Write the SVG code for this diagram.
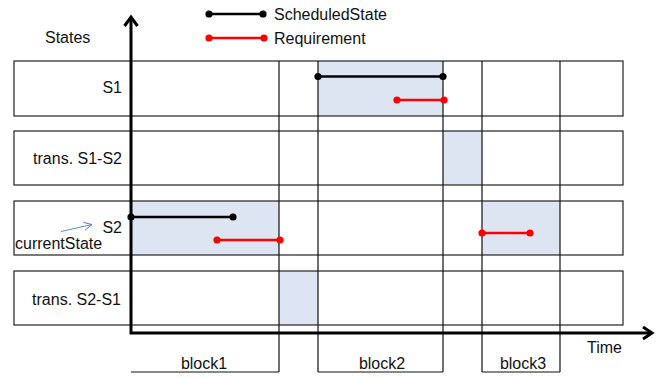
<svg xmlns="http://www.w3.org/2000/svg" width="661" height="378" viewBox="0 0 661 378">
  <style>
    .lbl { font-family: "Liberation Sans", Arial, sans-serif; font-size: 16px; fill: #111; }
    .row { fill: none; stroke: #222; stroke-width: 1.2; }
    .cell { fill: #dce5f1; stroke: none; }
    .grid { stroke: #111; stroke-width: 1.2; fill: none; }
    .axis { stroke: #000; stroke-width: 3; fill: none; }
    .sched { stroke: #000; stroke-width: 2.6; }
    .req { stroke: #f00; stroke-width: 2.6; }
    .dk { fill: #000; }
    .dr { fill: #f00; }
  </style>
  <defs>
    <marker id="thinArrow" markerWidth="10" markerHeight="10" refX="9" refY="5" orient="auto" markerUnits="userSpaceOnUse">
      <path d="M1,1 L9,5 L1,9" fill="none" stroke="#4a78c8" stroke-width="0.9"/>
    </marker>
  </defs>
  <rect width="661" height="378" fill="#fff"/>

  <!-- highlighted cells -->
  <g id="cells">
    <rect class="cell" x="318" y="61" width="125" height="55"/>
    <rect class="cell" x="443" y="131" width="39" height="54"/>
    <rect class="cell" x="131" y="201" width="148" height="54"/>
    <rect class="cell" x="482" y="201" width="78" height="54"/>
    <rect class="cell" x="279" y="271" width="39" height="54"/>
  </g>

  <!-- state rows -->
  <g id="row-s1">
    <rect class="row" x="14" y="61" width="609" height="55"/>
    <text class="lbl" x="122" y="93" text-anchor="end">S1</text>
  </g>
  <g id="row-s1s2">
    <rect class="row" x="14" y="131" width="609" height="54"/>
    <text class="lbl" x="122" y="164" text-anchor="end">trans. S1-S2</text>
  </g>
  <g id="row-s2">
    <rect class="row" x="14" y="201" width="609" height="54"/>
    <text class="lbl" x="122" y="233" text-anchor="end">S2</text>
  </g>
  <g id="row-s2s1">
    <rect class="row" x="14" y="271" width="609" height="54"/>
    <text class="lbl" x="121" y="305" text-anchor="end">trans. S2-S1</text>
  </g>

  <!-- block boundaries -->
  <g id="blocks">
    <path class="grid" d="M279,61 V372 M318,61 V372 M443,61 V372 M482,61 V372 M560,61 V372"/>
    <path class="grid" d="M131,372 H279 M318,372 H443 M482,372 H560"/>
    <text class="lbl" x="204" y="369" text-anchor="middle">block1</text>
    <text class="lbl" x="382" y="369" text-anchor="middle">block2</text>
    <text class="lbl" x="523" y="369" text-anchor="middle">block3</text>
  </g>

  <!-- axes -->
  <g id="axes">
    <path class="axis" d="M131,17 V333 H652"/>
    <path class="axis" d="M124.5,26 L131,17 L137.5,26"/>
    <path class="axis" d="M643,327 L652,333 L643,339"/>
    <text class="lbl" x="45" y="43">States</text>
    <text class="lbl" x="587" y="353">Time</text>
  </g>

  <!-- legend -->
  <g id="legend">
    <line class="sched" x1="209" y1="14" x2="263" y2="14"/>
    <circle class="dk" cx="209" cy="14" r="3.6"/>
    <circle class="dk" cx="263" cy="14" r="3.6"/>
    <text class="lbl" x="274" y="20">ScheduledState</text>
    <line class="req" x1="209" y1="38" x2="264" y2="38"/>
    <circle class="dr" cx="209" cy="38" r="3.6"/>
    <circle class="dr" cx="264" cy="38" r="3.6"/>
    <text class="lbl" x="274" y="44">Requirement</text>
  </g>

  <!-- scheduled state and requirement intervals -->
  <g id="connectors">
    <line class="sched" x1="318" y1="76.5" x2="443" y2="76.5"/>
    <circle class="dk" cx="318" cy="76.5" r="3.6"/>
    <circle class="dk" cx="443" cy="76.5" r="3.6"/>
    <line class="req" x1="397" y1="100" x2="444" y2="100"/>
    <circle class="dr" cx="397" cy="100" r="3.6"/>
    <circle class="dr" cx="444" cy="100" r="3.6"/>

    <line class="sched" x1="131" y1="217" x2="233" y2="217"/>
    <circle class="dk" cx="131" cy="217" r="3.6"/>
    <circle class="dk" cx="233" cy="217" r="3.6"/>
    <line class="req" x1="217" y1="240" x2="280" y2="240"/>
    <circle class="dr" cx="217" cy="240" r="3.6"/>
    <circle class="dr" cx="280" cy="240" r="3.6"/>

    <line class="req" x1="482" y1="233" x2="530" y2="233"/>
    <circle class="dr" cx="482" cy="233" r="3.6"/>
    <circle class="dr" cx="530" cy="233" r="3.6"/>
  </g>

  <!-- current state pointer -->
  <g id="current-state">
    <line x1="61" y1="231.5" x2="92" y2="224.5" stroke="#4a78c8" stroke-width="0.9" marker-end="url(#thinArrow)"/>
    <text class="lbl" x="15" y="249">currentState</text>
  </g>
</svg>
